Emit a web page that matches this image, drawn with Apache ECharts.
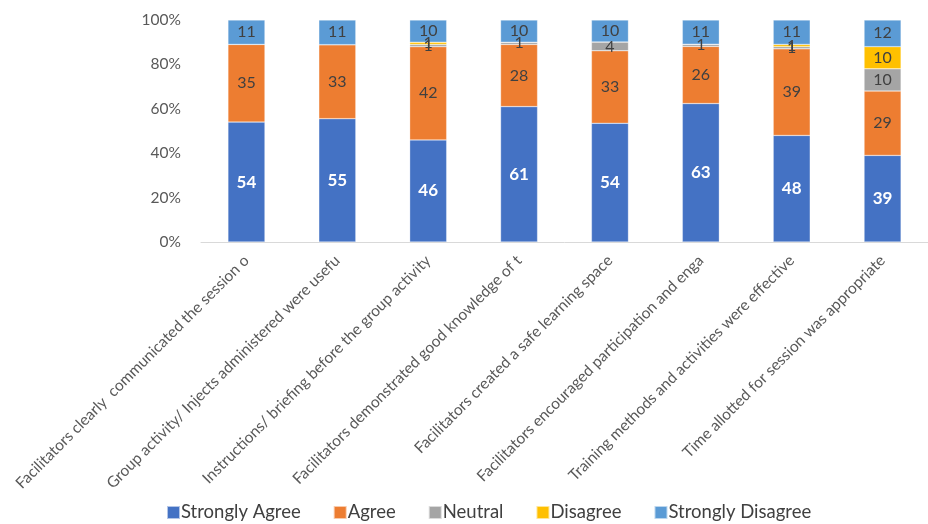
<!DOCTYPE html>
<html>
<head>
<meta charset="utf-8">
<script src="https://cdn.jsdelivr.net/npm/echarts@6/dist/echarts.min.js"></script>
<style>html,body{margin:0;padding:0;background:#fff;}#c{width:928px;height:524px;}</style>
</head>
<body>
<div id="c"></div>
<script>
var categories = [
  "Facilitators clearly  communicated the session o",
  "Group activity/ Injects administered were usefu",
  "Instructions/ briefing before the group activity",
  "Facilitators demonstrated good knowledge of t",
  "Facilitators created a safe learning space",
  "Facilitators encouraged participation and enga",
  "Training methods and activities were effective",
  "Time allotted for session was appropriate"
];
var seriesNames = ["Strongly Agree", "Agree", "Neutral", "Disagree", "Strongly Disagree"];
var stronglyAgree    = [54, 55, 46, 61, 54, 63, 48, 39];
var agree            = [35, 33, 42, 28, 33, 26, 39, 29];
var neutral          = [0, 0, 1, 1, 4, 1, 1, 10];
var disagree         = [0, 0, 1, 0, 0, 0, 1, 10];
var stronglyDisagree = [11, 11, 10, 10, 10, 11, 11, 12];
var yTicks = [0, 20, 40, 60, 80, 100];

var raw = [stronglyAgree, agree, neutral, disagree, stronglyDisagree];
var colors = ["#4472C4", "#ED7D31", "#A5A5A5", "#FFC000", "#5B9BD5"];
var totals = categories.map(function (c, i) {
  return raw.reduce(function (s, arr) { return s + arr[i]; }, 0);
});

var series = raw.map(function (arr, k) {
  return {
    name: seriesNames[k],
    type: "bar",
    stack: "total",
    barWidth: 37,
    itemStyle: { color: colors[k], borderColor: "rgba(255,255,255,0.6)", borderWidth: 0.5 },
    data: arr.map(function (v, i) {
      return { value: v / totals[i] * 100, raw: v };
    }),
    label: {
      show: true,
      position: "inside",
      fontFamily: "Lato",
      fontSize: k === 0 ? 17 : 16,
      fontWeight: k === 0 ? "bold" : "normal",
      color: k === 0 ? "#ffffff" : "#404040",
      formatter: function (p) { return p.data.raw ? String(p.data.raw) : ""; }
    }
  };
});

var chart = echarts.init(document.getElementById("c"));
chart.setOption({
  animation: false,
  textStyle: { fontFamily: "Lato" },
  grid: { left: 201, top: 20, width: 738, height: 222, containLabel: false },
  legend: {
    top: 503,
    left: 166,
    padding: 0,
    itemWidth: 13,
    itemHeight: 13,
    itemGap: 32,
    icon: "rect",
    textStyle: { fontFamily: "Lato", fontSize: 18.5, color: "#404040", padding: [0, 0, 0, -4] },
    data: seriesNames
  },
  xAxis: {
    type: "category",
    data: categories,
    axisLine: { lineStyle: { color: "#D9D9D9" } },
    axisTick: { show: false },
    axisLabel: {
      interval: 0,
      rotate: 45,
      margin: 16,
      fontFamily: "Lato",
      fontSize: 15.5,
      color: "#595959"
    }
  },
  yAxis: {
    type: "value",
    min: 0,
    max: 100,
    interval: 20,
    splitLine: { show: false },
    axisLine: { show: false },
    axisTick: { show: false },
    axisLabel: {
      fontFamily: "Lato",
      fontSize: 15.5,
      color: "#595959",
      margin: 20,
      formatter: function (v) { return yTicks.indexOf(v) >= 0 ? v + "%" : ""; }
    }
  },
  series: series
});
</script>
</body>
</html>
